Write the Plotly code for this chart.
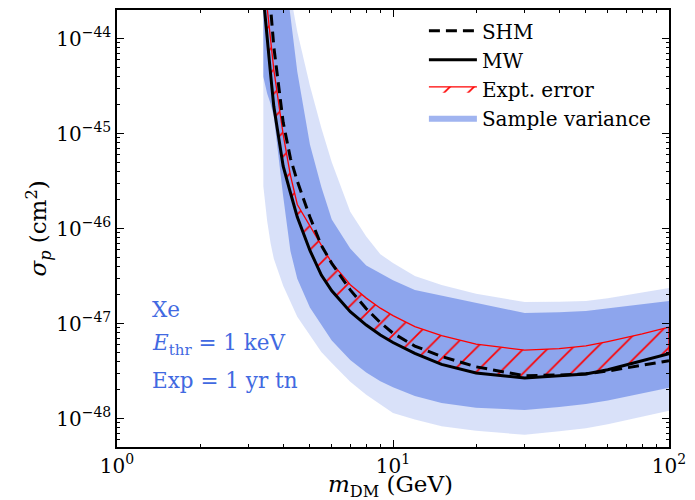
import plotly.graph_objects as go

# ---------------- data ----------------
mass = [3.39, 3.5, 3.6, 3.7, 4, 4.25, 4.5, 5, 5.5, 6, 7, 8, 9, 10, 12, 15, 20, 25, 30, 40, 50, 60, 80, 100]

sigma_mw = [2.74e-44, 9.2e-45, 4.27e-45, 1.92e-45, 4.52e-46, 2.38e-46, 1.32e-46, 5.88e-47, 3.23e-47,
            2.21e-47, 1.33e-47, 9.62e-48, 7.57e-48, 6.31e-48, 4.84e-48, 3.71e-48, 3.01e-48, 2.82e-48,
            2.67e-48, 2.81e-48, 2.94e-48, 3.26e-48, 4.04e-48, 4.80e-48]

sigma_shm = [2.1e-43, 5.0e-44, 2.15e-44, 8.18e-45, 1.31e-45, 5.48e-46, 3.15e-46, 1.32e-46, 6.64e-47,
             4.30e-47, 2.26e-47, 1.43e-47, 1.02e-47, 7.91e-48, 5.79e-48, 4.50e-48, 3.50e-48, 3.10e-48,
             2.82e-48, 2.87e-48, 2.96e-48, 3.16e-48, 3.64e-48, 4.06e-48]

sigma_expt_upper = [5.0e-44, 2.0e-44, 9.7e-45, 4.70e-45, 9.8e-46, 3.63e-46, 1.79e-46, 1.06e-46, 6.67e-47,
                    4.35e-47, 2.56e-47, 1.85e-47, 1.45e-47, 1.21e-47, 9.29e-48, 7.47e-48, 6.05e-48,
                    5.60e-48, 5.25e-48, 5.44e-48, 5.81e-48, 6.46e-48, 7.78e-48, 9.16e-48]

sv_outer_lower = [2.79e-46, 1.20e-46, 7.05e-47, 4.79e-47, 2.49e-47, 1.67e-47, 1.18e-47, 7.53e-48, 5.0e-48,
                  3.83e-48, 2.43e-48, 1.78e-48, 1.40e-48, 1.14e-48, 9.77e-49, 8.30e-49, 7.45e-49,
                  7.05e-49, 6.73e-49, 7.33e-49, 7.91e-49, 8.71e-49, 1.05e-48, 1.21e-48]

sv_inner_lower = [3.96e-45, 2.63e-45, 2.07e-45, 1.51e-45, 2.19e-46, 5.79e-47, 2.96e-47, 1.47e-47, 9.68e-48,
                  6.62e-48, 4.14e-48, 3.05e-48, 2.47e-48, 2.13e-48, 1.73e-48, 1.46e-48, 1.30e-48,
                  1.26e-48, 1.23e-48, 1.32e-48, 1.42e-48, 1.55e-48, 1.84e-48, 2.11e-48]

sv_inner_upper = [2e-42, 1e-42, 5e-43, 4e-43, 7.2e-44, 2.0e-44, 4.48e-45, 7.67e-46, 2.73e-46,
                  1.24e-46, 6.14e-47, 4.07e-47, 3.41e-47, 2.86e-47, 2.25e-47, 1.94e-47, 1.65e-47,
                  1.44e-47, 1.29e-47, 1.31e-47, 1.35e-47, 1.43e-47, 1.59e-47, 1.73e-47]

sv_outer_upper = [3e-42, 1.5e-42, 8e-43, 6e-43, 9.8e-44, 2.9e-44, 1.18e-44, 3.19e-45, 1.14e-45,
                  4.98e-46, 1.50e-46, 8.22e-47, 5.36e-47, 4.33e-47, 3.17e-47, 2.55e-47, 2.06e-47,
                  1.84e-47, 1.68e-47, 1.69e-47, 1.73e-47, 1.84e-47, 2.12e-47, 2.36e-47]

x_tick_vals = [1, 10, 100]
x_tick_text = ["10<sup>0</sup>", "10<sup>1</sup>", "10<sup>2</sup>"]
y_tick_vals = [1e-48, 1e-47, 1e-46, 1e-45, 1e-44]
y_tick_text = ["10<sup>\u221248</sup>", "10<sup>\u221247</sup>", "10<sup>\u221246</sup>",
               "10<sup>\u221245</sup>", "10<sup>\u221244</sup>"]

info_lines = ["Xe", "<i>E</i><sub>thr</sub> = 1 keV", "Exp = 1 yr tn"]

# ---------------- figure ----------------
FONT = "DejaVu Serif"
BLUE = "rgb(65,105,225)"

fig = go.Figure()


def band(lower, upper):
    return mass + mass[::-1], lower + upper[::-1]


# outer (light) sample-variance band
bx, by = band(sv_outer_lower, sv_outer_upper)
fig.add_trace(go.Scatter(x=bx, y=by, fill="toself", fillcolor="rgba(65,105,225,0.2)",
                         line=dict(width=0), mode="lines", showlegend=False, hoverinfo="skip"))
# inner (dark) sample-variance band
bx, by = band(sv_inner_lower, sv_inner_upper)
fig.add_trace(go.Scatter(x=bx, y=by, fill="toself", fillcolor="rgba(65,105,225,0.5)",
                         line=dict(width=0), mode="lines", name="Sample variance",
                         legendrank=4, hoverinfo="skip"))
# experimental error band (hatched)
bx, by = band(sigma_mw, sigma_expt_upper)
fig.add_trace(go.Scatter(x=bx, y=by, fill="toself", fillcolor="rgba(0,0,0,0)",
                         fillpattern=dict(shape="/", fgcolor="rgb(255,0,0)", bgcolor="rgba(0,0,0,0)",
                                          size=17, solidity=0.1, fgopacity=1),
                         line=dict(color="red", width=1.3), mode="lines", name="Expt. error",
                         legendrank=3, hoverinfo="skip"))
# SHM dashed
fig.add_trace(go.Scatter(x=mass, y=sigma_shm, mode="lines", name="SHM",
                         line=dict(color="black", width=3, dash="11px,6px"), legendrank=1))
# MW solid
fig.add_trace(go.Scatter(x=mass, y=sigma_mw, mode="lines", name="MW",
                         line=dict(color="black", width=3), legendrank=2))

x_minor = [k * 10 ** e for e in (0, 1) for k in range(2, 10)]
y_minor = [k * 10.0 ** e for e in range(-49, -43) for k in range(2, 10)
           if 5.0e-49 <= k * 10.0 ** e < 1.99e-44]

axis_common = dict(showline=True, linecolor="black", linewidth=1.5, mirror="ticks",
                   ticks="inside", ticklen=7, tickwidth=1.2, tickcolor="black",
                   showgrid=False, zeroline=False,
                   tickfont=dict(family=FONT, size=20, color="black"))

fig.update_xaxes(type="log", range=[0, 2], tickmode="array", tickvals=x_tick_vals,
                 ticktext=x_tick_text,
                 minor=dict(tickmode="array", tickvals=x_minor, ticks="inside", ticklen=3.5,
                            tickwidth=1, tickcolor="black", showgrid=False),
                 **axis_common)
fig.update_yaxes(type="log", range=[-48.30, -43.70], tickmode="array", tickvals=y_tick_vals,
                 ticktext=y_tick_text,
                 minor=dict(tickmode="array", tickvals=y_minor, ticks="inside", ticklen=3.5,
                            tickwidth=1, tickcolor="black", showgrid=False),
                 **axis_common)

annotations = []
for txt, yy in zip(info_lines, [0.314, 0.234, 0.152]):
    annotations.append(dict(text=txt, x=0.06, y=yy, xref="paper", yref="paper",
                            xanchor="left", yanchor="middle", showarrow=False,
                            font=dict(family=FONT, size=21.5, color=BLUE)))
annotations.append(dict(text="<i>m</i><sub>DM</sub> (GeV)", x=0.496, y=-0.089, xref="paper",
                        yref="paper", xanchor="center", yanchor="middle", showarrow=False,
                        font=dict(family=FONT, size=23, color="black")))
annotations.append(dict(text="<i>\u03c3<sub>p</sub></i> (cm<sup>2</sup>)", x=-0.143, y=0.5,
                        xref="paper", yref="paper", xanchor="center", yanchor="middle",
                        textangle=-90, showarrow=False,
                        font=dict(family=FONT, size=23, color="black")))

fig.update_layout(
    width=695, height=500,
    margin=dict(l=117, r=26, t=8, b=53),
    paper_bgcolor="white", plot_bgcolor="white",
    font=dict(family=FONT, color="black"),
    legend=dict(x=0.556, y=0.997, xanchor="left", yanchor="top", bgcolor="rgba(0,0,0,0)",
                font=dict(family=FONT, size=20, color="black"), traceorder="normal",
                itemwidth=48),
    annotations=annotations,
)

fig.write_html("out.html")
